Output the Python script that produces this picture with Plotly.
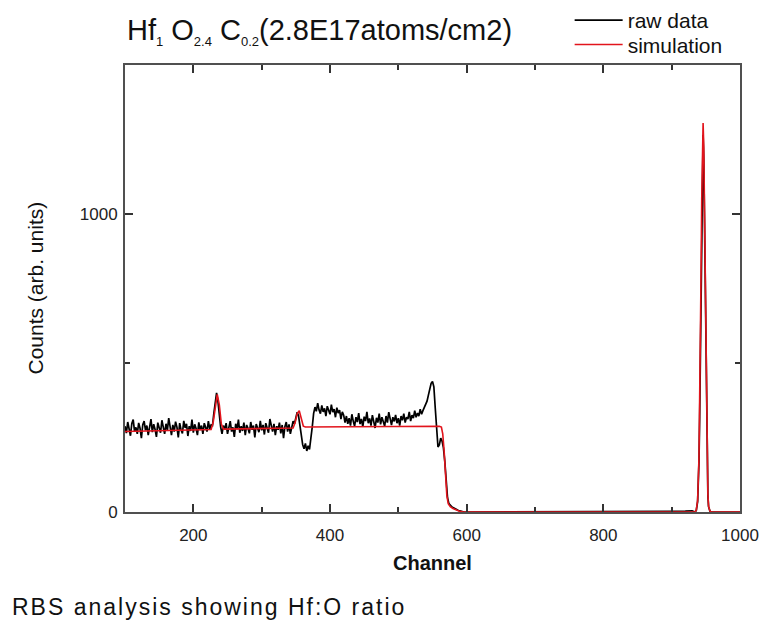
import plotly.graph_objects as go

# RBS spectrum: measured counts, channels 100-600 every 2 channels
spectrum_channel = list(range(100, 602, 2))
spectrum_counts = [
    # 100-226
    288, 265, 302, 279, 256, 297, 310, 270, 284, 262, 299, 281, 248, 293, 305, 274, 290, 258, 286, 312,
    268, 295, 277, 252, 300, 283, 266, 308, 289, 262, 296, 274, 315, 280, 258, 292, 270, 303, 285, 250,
    298, 276, 264, 306, 282, 296, 255, 288, 272, 310, 266, 294, 280, 258, 301, 275, 290, 262, 298, 284,
    270, 305, 278, 292,
    # 228-244: C surface peak
    290, 330, 378, 400, 372, 318, 285, 262, 290,
    # 246-348
    276, 298, 262, 290, 305, 270, 284, 252, 296, 278, 310, 266, 288, 272, 300, 258, 292, 281, 264, 302,
    276, 290, 250, 295, 283, 268, 306, 274, 292, 260, 298, 280, 266, 312, 285, 270, 296, 258, 288, 276,
    300, 264, 292, 248, 286, 302, 270, 294, 262, 290, 305, 296,
    # 350-376: O surface peak and dip
    318, 335, 322, 290, 248, 226, 212, 230, 205, 222, 210, 240, 285, 330,
    # 378-540
    352, 338, 365, 342, 330, 358, 336, 348, 322, 355, 340, 328, 360, 335, 345, 318, 350, 332, 342, 312,
    336, 325,
    300, 322, 296, 315, 290, 328, 305, 288, 318, 302, 332, 295, 312, 286, 320, 305, 336, 298, 314, 290,
    325, 308, 282, 316, 300, 330, 294, 318, 305, 288, 322, 300, 335, 310, 292, 318, 304, 326, 298, 315,
    290, 322, 308, 330, 300, 318, 312, 336, 305, 325, 315, 340, 318, 332, 322, 345, 328, 340, 352, 365,
    # 542-600: Hf edge
    372, 392, 415, 432, 438, 420, 350, 262, 218, 225, 248, 238, 215, 170, 100, 48, 28, 22, 18, 15,
    12, 9, 7, 5, 4, 2, 1, 0, 0, 0,
]

# Background region and Hf peak of the measured spectrum
tail_channel = [620, 650, 700, 750, 800, 850, 900, 920, 930,
                934, 936, 938, 940, 941, 942, 943, 944, 945, 946, 947, 948, 949, 950, 951, 952,
                953, 954, 956, 958, 965, 980, 1000]
tail_counts = [0, 1, 0, 0, 1, 0, 2, 3, 4,
               0, 5, 35, 170, 320, 520, 770, 1010, 1190, 1265, 1180, 980, 720, 470, 270, 135,
               55, 18, 3, 0, 0, 0, 0]

raw_channel = spectrum_channel + tail_channel
raw_counts = spectrum_counts + tail_counts

# Simulated spectrum for Hf1 O2.4 C0.2
sim_channel = [
    100, 150, 200, 226, 229, 232, 235, 238, 241, 244, 300, 346, 349, 352, 355, 358, 361, 364,
    400, 450, 500, 540, 560, 563, 565, 567, 569, 571, 573, 576, 580, 585, 590, 595,
    650, 800, 930,
    934, 936, 938, 940, 941, 942, 943, 944, 945, 946, 947, 948, 949, 950, 951, 952, 953, 954, 956, 958,
    965, 1000,
]
sim_counts = [
    270, 272, 275, 277, 300, 355, 395, 360, 295, 278, 280, 282, 300, 330, 340, 315, 288, 285,
    286, 286, 287, 288, 288, 285, 262, 205, 125, 55, 28, 18, 12, 6, 2, 0,
    0, 0, 0,
    0, 6, 40, 185, 340, 545, 800, 1050, 1240, 1305, 1225, 1020, 755, 495, 285, 145, 60, 20, 3, 0,
    0, 0,
]

x_ticks = [200, 400, 600, 800, 1000]
y_ticks = [0, 1000]

FONT = "Liberation Sans, Arial, sans-serif"
FRAME = "#505050"

fig = go.Figure()
fig.add_trace(go.Scatter(
    x=raw_channel, y=raw_counts, mode="lines", name="raw data",
    line=dict(color="black", width=1.7), legend="legend",
))
fig.add_trace(go.Scatter(
    x=sim_channel, y=sim_counts, mode="lines", name="simulation",
    line=dict(color="#e2141c", width=1.6), legend="legend2",
))

axis_common = dict(
    showline=True, linecolor=FRAME, linewidth=2, mirror="ticks",
    ticks="inside", ticklen=8, tickwidth=1.5, tickcolor="#333",
    showgrid=False, zeroline=False,
    tickfont=dict(family=FONT, size=17, color="#222"),
)

fig.update_xaxes(
    range=[100, 1000], tickvals=x_ticks,
    minor=dict(dtick=100, tick0=0, ticks="inside", ticklen=5, tickwidth=1.5, tickcolor="#333"),
    ticklabelstandoff=7,
    **axis_common,
)
fig.update_yaxes(
    range=[0, 1500], tickvals=y_ticks,
    minor=dict(dtick=500, tick0=0, ticks="inside", ticklen=5, tickwidth=1.5, tickcolor="#333"),
    ticklabelstandoff=2,
    **axis_common,
)

sub = '<sub><span style="font-size:13px">{}</span></sub>'
title_text = ("Hf" + sub.format("1") + " O" + sub.format("2.4") + " C" + sub.format("0.2")
              + "(2.8E17atoms/cm2)")

legend_style = dict(
    x=0.723, xanchor="left", yref="container", yanchor="top",
    font=dict(family=FONT, size=21, color="#111"),
    bgcolor="rgba(0,0,0,0)", itemwidth=48,
)

fig.update_layout(
    width=761, height=626,
    margin=dict(l=125, r=21, t=65, b=114, autoexpand=False),
    paper_bgcolor="white", plot_bgcolor="white",
    font=dict(family=FONT, color="#111"),
    showlegend=True,
    legend=dict(y=1.006, **legend_style),
    legend2=dict(y=0.961, **legend_style),
    annotations=[
        dict(text=title_text,
             xref="paper", yref="paper", x=0, y=1.074, xanchor="left", yanchor="middle",
             showarrow=False, font=dict(family=FONT, size=29, color="#111")),
        dict(text="Counts (arb. units)", textangle=-90,
             xref="paper", yref="paper", x=-0.1463, y=0.5, xanchor="center", yanchor="middle",
             showarrow=False, font=dict(family=FONT, size=21, color="#111")),
        dict(text="<b>Channel</b>",
             xref="paper", yref="paper", x=0.5, y=-0.114, xanchor="center", yanchor="middle",
             showarrow=False, font=dict(family=FONT, size=20, color="#111")),
        dict(text='<span style="letter-spacing:2px">RBS analysis showing Hf:O ratio</span>',
             xref="paper", yref="paper", x=-0.187, y=-0.2125, xanchor="left", yanchor="middle",
             showarrow=False, font=dict(family=FONT, size=23, color="#111")),
    ],
)

fig.write_html("out.html")
